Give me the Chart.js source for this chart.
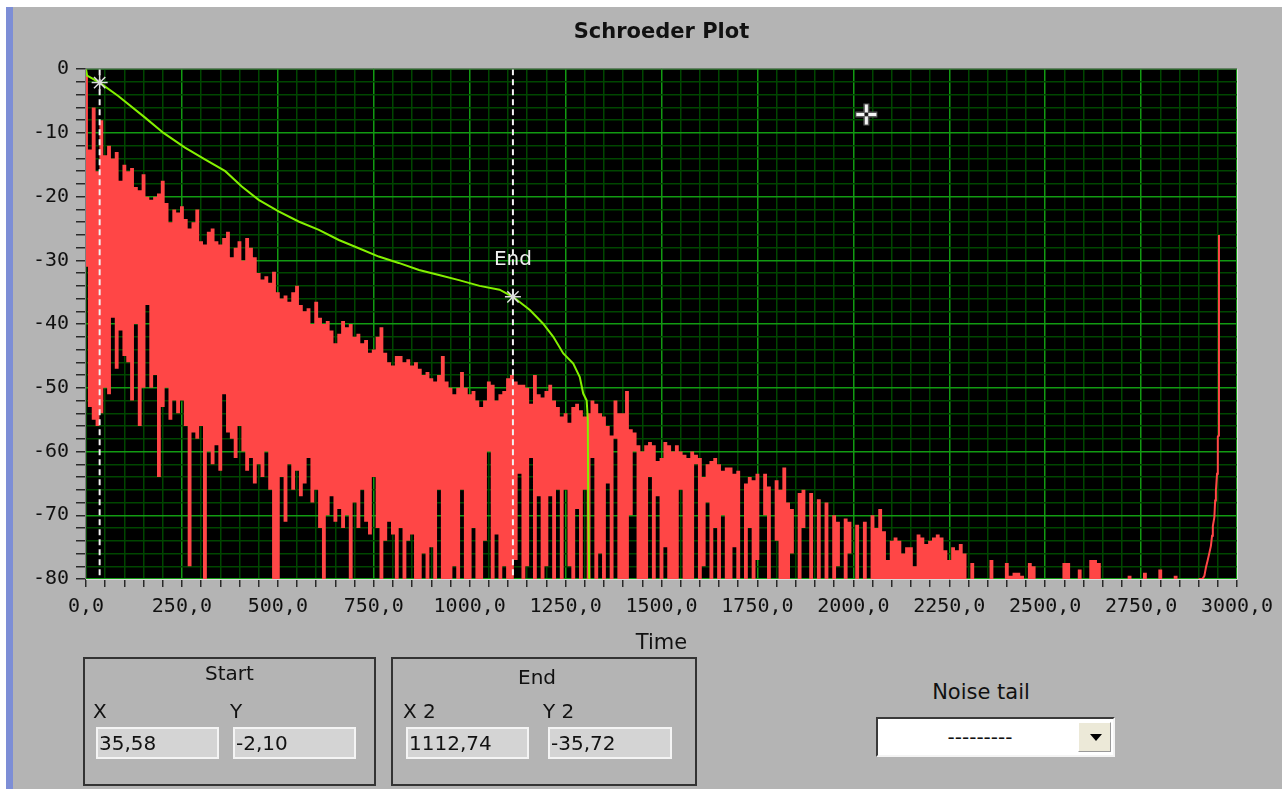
<!DOCTYPE html>
<html>
<head>
<meta charset="utf-8">
<script src="https://cdn.jsdelivr.net/npm/chart.js@4.4.1/dist/chart.umd.min.js"></script>
<style>
html,body{margin:0;padding:0;background:#ffffff;width:1282px;height:789px;overflow:hidden;font-family:"DejaVu Sans",sans-serif;}
#panel{position:absolute;left:13px;top:7px;width:1269px;height:782px;background:#b4b4b4;}
#stripe{position:absolute;left:6px;top:7px;width:7px;height:782px;background:#7d8ed6;}
#c{position:absolute;left:0;top:0;}
.box{position:absolute;border:2px solid #333;box-sizing:border-box;}
.lbl{position:absolute;font-size:20px;line-height:24px;color:#111;white-space:nowrap;}
.inp{position:absolute;background:#d4d4d4;border:2px solid #f4f4f4;box-sizing:border-box;font-size:20px;line-height:28px;padding-left:1px;color:#111;white-space:nowrap;}
#dd{position:absolute;left:876px;top:717px;width:239px;height:40px;background:#fff;box-sizing:border-box;border-top:2px solid #3a3a3a;border-left:2px solid #3a3a3a;border-right:2px solid #f4f4f4;border-bottom:2px solid #f4f4f4;}
#ddtxt{position:absolute;left:0;top:0;width:204px;height:36px;line-height:36px;text-align:center;font-size:20px;color:#111;}
#ddbtn{position:absolute;right:2px;top:3px;width:33px;height:30px;background:#ece9d8;box-sizing:border-box;border-top:1px solid #fff;border-left:1px solid #fff;border-right:1px solid #9a9a9a;border-bottom:1px solid #9a9a9a;}
#ddarr{position:absolute;left:11px;top:11px;width:0;height:0;border-left:6px solid transparent;border-right:6px solid transparent;border-top:7px solid #000;}
</style>
</head>
<body>
<div id="panel"></div>
<div id="stripe"></div>
<canvas id="c" width="1282" height="662"></canvas>

<div class="box" style="left:83px;top:657px;width:293px;height:129px;"></div>
<div class="lbl" style="left:83px;top:661px;width:293px;text-align:center;">Start</div>
<div class="lbl" style="left:93px;top:699px;">X</div>
<div class="lbl" style="left:230px;top:699px;">Y</div>
<div class="inp" style="left:96px;top:727px;width:123px;height:32px;" id="sx"></div>
<div class="inp" style="left:233px;top:727px;width:123px;height:32px;" id="sy"></div>

<div class="box" style="left:391px;top:657px;width:306px;height:129px;"></div>
<div class="lbl" style="left:518px;top:665px;">End</div>
<div class="lbl" style="left:403px;top:699px;">X 2</div>
<div class="lbl" style="left:543px;top:699px;">Y 2</div>
<div class="inp" style="left:406px;top:727px;width:123px;height:32px;" id="ex"></div>
<div class="inp" style="left:548px;top:727px;width:124px;height:32px;" id="ey"></div>

<div class="lbl" style="left:881px;top:680px;width:200px;text-align:center;font-size:21px;">Noise tail</div>
<div id="dd"><div id="ddtxt">---------</div><div id="ddbtn"><div id="ddarr"></div></div></div>

<script>
// ---------------- data ----------------
const SAMPLE_DT = 10; // time step of the energy-decay samples

// upper edge of the red energy trace (dB), one value per sample
const redUpper = [
 -1,-12.6,-6,-16,-8,-13.5,-12,-14,-13,-17.5,
 -15,-16,-15.5,-18.5,-19,-16.5,-20,-20.5,-20,-19.5,
 -17.5,-21,-24,-22,-22.5,-21.5,-23.5,-25,-24,-22,
 -27,-27.5,-25.5,-25,-27,-27.5,-26.5,-25.5,-29.5,-28,
 -27,-30,-26.5,-28,-29.5,-32,-33,-32.5,-33.5,-31.8,
 -35,-36,-35.5,-36.5,-35,-34,-37,-38,-37.5,-40,
 -36.5,-39,-40,-39.5,-41,-43,-41.5,-39.5,-40.5,-40,
 -42,-41.5,-43,-42.5,-44.5,-44,-42,-40.5,-44.5,-46,
 -46.5,-45,-45,-46,-45.5,-46.5,-46,-47,-48,-47.5,
 -48.5,-49,-48,-45,-49,-50,-51,-50,-47.5,-50,
 -51,-50.5,-52,-53,-52,-49,-49.5,-52,-51,-50.5,
 -48.5,-48,-49,-49.5,-49.5,-50,-52.5,-48,-51,-51.5,
 -50.5,-49.5,-52,-53,-54.5,-54,-55.5,-53,-52.5,-53.5,
 -54.5,-54,-52,-52.5,-54,-54.5,-56,-57.5,-52,-54,
 -54,-50.5,-56.5,-57,-59,-60,-59,-58.5,-59,-61.5,
 -61,-58.5,-59,-60,-59,-60,-60.5,-61,-60,-60.5,
 -61,-64,-62,-61.5,-61,-62,-63,-62.5,-62.5,-63.5,
 -63,-80,-65,-64,-64.5,-63.5,-80,-63.5,-65.5,-80,
 -64.5,-66,-62.5,-68,-69,-80,-66.5,-66,-80,-66.5,
 -80,-67.5,-80,-68,-80,-70,-71,-80,-70.5,-71,
 -80,-71.5,-80,-71,-80,-70,-72,-69,-72.5,-77,
 -74,-73.5,-74,-76,-75,-75,-78,-73,-73.5,-74.5,
 -74,-73.5,-73,-73.5,-75.5,-77,-75,-75.5,-74.5,-76,
 -80,-77.5,-80,-80,-80,-80,-77,-80,-80,-80,
 -77.5,-79.5,-79,-79,-79.5,-80,-77.5,-78,-80,-80,
 -80,-80,-80,-80,-80,-77.5,-77.5,-80,-80,-78.5,
 -80,-80,-77,-77,-77.5,-80,-80,-80,-80,-80,
 -80,-80,-79.5,-80,-80,-80,-79,-80,-80,-80,
 -78.5,-80,-80,-80,-79.5,-80,-80,-80,-80,-80,-80
];

// lower edge of the red energy trace (dB), one value per sample
const redLower = [
 -31,-53,-55,-56,-54,-50,-51,-39,-47,-41,
 -45,-46,-52,-40,-56,-50,-37,-50,-48,-64,
 -53,-50,-55,-52,-54,-52,-56,-78,-57,-58,
 -56,-80,-60,-62,-59,-63,-51,-57,-58,-61,
 -56,-60,-63,-61,-65,-62,-64,-60,-66,-80,
 -80,-64,-71,-62,-66,-63,-67,-65,-61,-68,
 -66,-72,-80,-70,-67,-71,-69,-72,-70,-80,
 -68,-72,-66,-71,-73,-64,-72,-80,-74,-71,
 -73,-80,-72,-80,-74,-73,-80,-80,-76,-80,
 -75,-80,-66,-80,-80,-80,-78,-80,-66,-80,
 -80,-72,-80,-80,-74,-60,-80,-73,-80,-78,
 -80,-80,-77,-63.5,-80,-78,-61,-80,-67,-80,
 -78,-67,-80,-66,-80,-66,-78,-80,-69,-80,
 -66,-80,-61,-80,-76,-80,-65,-80,-58,-80,
 -80,-80,-70,-60,-80,-80,-80,-64,-80,-67,
 -80,-75,-80,-80,-80,-66,-80,-80,-80,-62,
 -80,-78,-68,-80,-72,-80,-70,-80,-80,-75,
 -80,-80,-80,-72,-80,-77,-80,-70,-80,-80,
 -74,-80,-80,-80,-76,-80,-80,-72,-80,-80,
 -80,-80,-80,-80,-80,-80,-78,-80,-80,-76,
 -80,-80,-80,-80,-80,-80,-80,-80,-80,-80,
 -80,-80,-80,-80,-80,-80,-80,-80,-80,-80,
 -80,-80,-80,-80,-80,-80,-80,-80,-80,-80,
 -80,-80,-80,-80,-80,-80,-80,-80,-80,-80,
 -80,-80,-80,-80,-80,-80,-80,-80,-80,-80,
 -80,-80,-80,-80,-80,-80,-80,-80,-80,-80,
 -80,-80,-80,-80,-80,-80,-80,-80,-80,-80,
 -80,-80,-80,-80,-80,-80,-80,-80,-80,-80,
 -80,-80,-80,-80,-80,-80,-80,-80,-80,-80,-80
];

// rising tail at the end of the red trace
const tailTime  = [2900, 2910, 2915, 2919, 2923, 2928, 2932, 2935, 2937, 2941, 2943, 2945, 2948, 2950, 2952, 2953];
const tailLevel = [-80, -80, -79.5, -78.2, -77.2, -75.9, -74.8, -73.2, -71.7, -70.3, -67.7, -66.1, -63.5, -57.7, -57.5, -26];

// green Schroeder integration curve
const schroederTime  = [0, 3, 35.58, 84, 154, 202, 258, 311, 363, 406, 450, 502, 554, 607, 659, 711, 763, 815, 868, 920, 972, 1026, 1078, 1112.74, 1157, 1191, 1218, 1244, 1270, 1287, 1296, 1305, 1308, 1309, 1312];
const schroederLevel = [0, -1, -2.1, -4.2, -7.6, -10, -12.3, -14.2, -16, -18.4, -20.5, -22.3, -23.9, -25.2, -26.8, -28.1, -29.4, -30.4, -31.5, -32.3, -33.1, -34, -34.6, -35.72, -37.8, -39.9, -42, -44.6, -46.2, -48.3, -50.9, -52, -55, -68.8, -82];

// cursors
const cursorNames = ['Start', 'End'];
const cursorTime  = [35.58, 1112.74];
const cursorLevel = [-2.10, -35.72];
const cursorText  = [['35,58', '-2,10'], ['1112,74', '-35,72']];

// mouse pointer seen in the screenshot
const pointerTime = [2034];
const pointerLevel = [-7.1];

// axis labels
const xTickLabels = ['0,0','250,0','500,0','750,0','1000,0','1250,0','1500,0','1750,0','2000,0','2250,0','2500,0','2750,0','3000,0'];
const yTickLabels = ['0','-10','-20','-30','-40','-50','-60','-70','-80'];

// ---------------- chart ----------------
document.getElementById('sx').textContent = cursorText[0][0];
document.getElementById('sy').textContent = cursorText[0][1];
document.getElementById('ex').textContent = cursorText[1][0];
document.getElementById('ey').textContent = cursorText[1][1];

const RED = '#ff4646';
const GREEN = '#84f000';
const GRID_MAJOR = '#129a12';
const GRID_MINOR = '#004600';
const MONO = '"DejaVu Sans Mono", monospace';

const toPts = (arr) => arr.map((v, i) => ({x: i * SAMPLE_DT, y: v}));
const zip = (xs, ys) => xs.map((x, i) => ({x: x, y: ys[i]}));

const plotBg = {
  id: 'plotBg',
  beforeDraw(chart) {
    const a = chart.chartArea, ctx = chart.ctx;
    ctx.save();
    ctx.fillStyle = '#000';
    ctx.fillRect(a.left, a.top, a.right - a.left, a.bottom - a.top);
    ctx.restore();
  },
  afterDraw(chart) {
    const a = chart.chartArea, ctx = chart.ctx;
    ctx.save();
    ctx.lineWidth = 1;
    ctx.strokeStyle = '#7c7c7c';
    ctx.beginPath();
    ctx.moveTo(a.left - 0.5, a.bottom); ctx.lineTo(a.left - 0.5, a.top - 0.5); ctx.lineTo(a.right, a.top - 0.5);
    ctx.stroke();
    ctx.strokeStyle = '#dcdcdc';
    ctx.beginPath();
    ctx.moveTo(a.right + 0.5, a.top); ctx.lineTo(a.right + 0.5, a.bottom + 0.5); ctx.lineTo(a.left, a.bottom + 0.5);
    ctx.stroke();
    ctx.restore();
  }
};

const cursorLabel = {
  id: 'cursorLabel',
  afterDatasetsDraw(chart) {
    const ctx = chart.ctx;
    const x = chart.scales.x.getPixelForValue(cursorTime[1]);
    const y = chart.scales.y.getPixelForValue(-29.9);
    ctx.save();
    ctx.font = '20px "DejaVu Sans"';
    ctx.fillStyle = '#f0f0f0';
    ctx.textAlign = 'center';
    ctx.textBaseline = 'middle';
    ctx.fillText(cursorNames[1], x, y);
    ctx.restore();
  }
};

new Chart(document.getElementById('c'), {
  type: 'line',
  data: {
    datasets: [
      {data: toPts(redLower), borderWidth: 0, borderColor: RED, pointRadius: 0, stepped: 'middle', fill: false, order: 10},
      {data: toPts(redUpper), borderWidth: 0, borderColor: RED, backgroundColor: RED, pointRadius: 0, stepped: 'middle', fill: '-1', order: 9},
      {data: zip(tailTime, tailLevel), borderColor: RED, borderWidth: 2, pointRadius: 0, fill: false, order: 8},
      {data: zip(schroederTime, schroederLevel), borderColor: GREEN, borderWidth: 2, pointRadius: 0, fill: false, order: 5},
      {data: [{x: cursorTime[0], y: 0}, {x: cursorTime[0], y: -80}], borderColor: '#f2f2f2', borderWidth: 2, borderDash: [6, 4], pointRadius: 0, fill: false, order: 4},
      {data: [{x: cursorTime[1], y: 0}, {x: cursorTime[1], y: -80}], borderColor: '#f2f2f2', borderWidth: 2, borderDash: [6, 4], pointRadius: 0, fill: false, order: 3},
      {data: zip(cursorTime, cursorLevel), showLine: false, pointStyle: 'star', pointRadius: 8, pointBorderColor: '#dcdcdc', pointBorderWidth: 1.5, order: 2},
      {data: zip(pointerTime, pointerLevel), showLine: false, pointStyle: 'cross', pointRadius: 11, pointBorderColor: '#5a5a5a', pointBorderWidth: 6, order: 1},
      {data: zip(pointerTime, pointerLevel), showLine: false, pointStyle: 'cross', pointRadius: 10, pointBorderColor: '#f4f4f4', pointBorderWidth: 3, order: 0},
      {data: zip(pointerTime, pointerLevel), showLine: false, pointStyle: 'rect', pointRadius: 2, pointBackgroundColor: '#111', pointBorderColor: '#111', pointBorderWidth: 1, order: -1}
    ]
  },
  options: {
    responsive: false,
    devicePixelRatio: 1,
    animation: false,
    events: [],
    layout: {padding: {left: 0, right: 45, top: 0, bottom: 0}},
    plugins: {
      legend: {display: false},
      tooltip: {enabled: false},
      title: {
        display: true,
        text: 'Schroeder Plot',
        fullSize: false,
        color: '#111',
        font: {family: '"DejaVu Sans"', size: 21, weight: 'bold'},
        padding: {top: 20, bottom: 24}
      }
    },
    scales: {
      x: {
        type: 'linear',
        min: 0,
        max: 3000,
        afterBuildTicks(scale) {
          const t = [];
          for (let v = 0; v <= 3000; v += 50) t.push({value: v});
          scale.ticks = t;
        },
        afterFit(scale) { scale.height = 83; },
        border: {display: false},
        grid: {
          color: (c) => (c.tick && c.tick.value % 250 === 0) ? GRID_MAJOR : GRID_MINOR,
          lineWidth: 1.5,
          tickColor: '#2a2a2a',
          tickLength: 8,
          tickWidth: 1.5
        },
        ticks: {
          autoSkip: false,
          maxRotation: 0,
          minRotation: 0,
          padding: 8,
          color: '#111',
          font: {family: MONO, size: 20},
          callback: (v) => (v % 250 === 0) ? xTickLabels[Math.round(v / 250)] : ''
        },
        title: {
          display: true,
          text: 'Time',
          color: '#111',
          font: {family: '"DejaVu Sans"', size: 21},
          padding: {top: 0, bottom: 6}
        }
      },
      y: {
        type: 'linear',
        min: -80,
        max: 0,
        afterBuildTicks(scale) {
          const t = [];
          for (let v = -80; v <= 0; v += 2) t.push({value: v});
          scale.ticks = t;
        },
        afterFit(scale) { scale.width = 86; },
        border: {display: false},
        grid: {
          color: (c) => (c.tick && c.tick.value % 10 === 0) ? GRID_MAJOR : GRID_MINOR,
          lineWidth: 1.5,
          tickColor: '#2a2a2a',
          tickLength: 10,
          tickWidth: 1.5
        },
        ticks: {
          autoSkip: false,
          padding: 7,
          color: '#111',
          font: {family: MONO, size: 20},
          callback: (v) => (v % 10 === 0) ? yTickLabels[Math.round(-v / 10)] : ''
        }
      }
    }
  },
  plugins: [plotBg, cursorLabel]
});
</script>
</body>
</html>
